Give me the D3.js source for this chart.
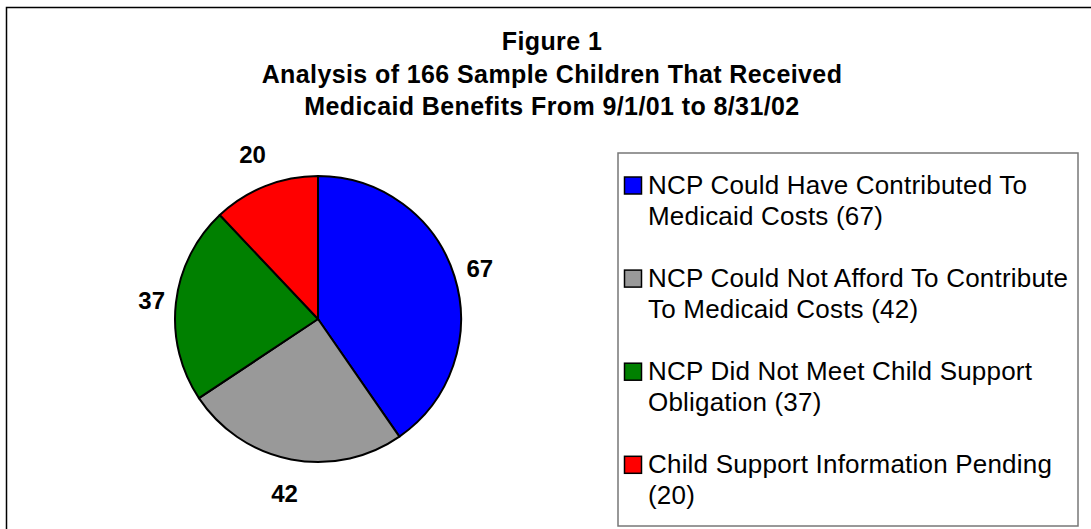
<!DOCTYPE html>
<html>
<head>
<meta charset="UTF-8">
<script src="https://cdn.jsdelivr.net/npm/d3@7"></script>
<style>
  body { margin: 0; background: #fff; }
  text { font-family: Arial, "Liberation Sans", sans-serif; fill: #000; }
</style>
</head>
<body>
<svg width="1091" height="529"></svg>
<script>
// chart data
const titleLines = ["Figure 1", "Analysis of 166 Sample Children That Received", "Medicaid Benefits From 9/1/01 to 8/31/02"];
const categories = ["NCP Could Have Contributed To Medicaid Costs", "NCP Could Not Afford To Contribute To Medicaid Costs", "NCP Did Not Meet Child Support Obligation", "Child Support Information Pending"];
const values = [67, 42, 37, 20];
const colors = ["#0000ff", "#999999", "#008000", "#ff0000"];
// legend text as wrapped in the original
const legendLines = [
    ["NCP Could Have Contributed To", "Medicaid Costs (67)"],
    ["NCP Could Not Afford To Contribute", "To Medicaid Costs (42)"],
    ["NCP Did Not Meet Child Support", "Obligation (37)"],
    ["Child Support Information Pending", "(20)"]
];

var svg = d3.select("svg");

// outer frame
svg.append("rect")
    .attr("x", 6.5).attr("y", 7.5)
    .attr("width", 1100).attr("height", 540)
    .attr("fill", "none").attr("stroke", "#000").attr("stroke-width", 1.5);

// title
svg.selectAll(".title")
    .data(titleLines)
    .enter().append("text")
    .attr("class", "title")
    .attr("x", 552)
    .attr("y", function(d, i) { return 50 + i * 32.5; })
    .attr("text-anchor", "middle")
    .style("font-size", "25px")
    .style("font-weight", "bold")
    .style("letter-spacing", "0.4px")
    .text(function(d) { return d; });

// pie
var cx = 318, cy = 319, radius = 143;
var pie = d3.pie().sort(null).value(function(d) { return d; });
var arc = d3.arc().innerRadius(0).outerRadius(radius);
var arcs = pie(values);

var g = svg.append("g").attr("transform", "translate(" + cx + "," + cy + ")");

g.selectAll("path")
    .data(arcs)
    .enter().append("path")
    .attr("d", arc)
    .attr("fill", function(d, i) { return colors[i]; })
    .attr("stroke", "#000")
    .attr("stroke-width", 2)
    .attr("stroke-linejoin", "round");

// value labels outside the slices
g.selectAll(".lbl")
    .data(arcs)
    .enter().append("text")
    .attr("class", "lbl")
    .attr("transform", function(d) {
        var a = (d.startAngle + d.endAngle) / 2;
        var dist = 166 + 12 * Math.abs(Math.cos(a));
        return "translate(" + (Math.sin(a) * dist) + "," + (-Math.cos(a) * dist) + ")";
    })
    .attr("dy", "0.36em")
    .attr("text-anchor", "middle")
    .style("font-size", "24px")
    .style("font-weight", "bold")
    .text(function(d) { return d.data; });

// legend
svg.append("rect")
    .attr("x", 618).attr("y", 153)
    .attr("width", 460).attr("height", 373)
    .attr("fill", "#fff").attr("stroke", "#777").attr("stroke-width", 1.5);

var leg = svg.selectAll(".leg")
    .data(categories)
    .enter().append("g")
    .attr("class", "leg")
    .attr("transform", function(d, i) { return "translate(624," + (194 + i * 93.1) + ")"; });

leg.append("rect")
    .attr("x", 0.5).attr("y", -17)
    .attr("width", 17).attr("height", 17)
    .attr("fill", function(d, i) { return colors[i]; })
    .attr("stroke", "#000").attr("stroke-width", 1.5);

leg.append("text")
    .style("font-size", "26px")
    .style("letter-spacing", "0.2px")
    .selectAll("tspan")
    .data(function(d, i) { return legendLines[i]; })
    .enter().append("tspan")
    .attr("x", 24)
    .attr("y", function(d, j) { return j * 30.5; })
    .text(function(d) { return d; });
</script>
</body>
</html>
